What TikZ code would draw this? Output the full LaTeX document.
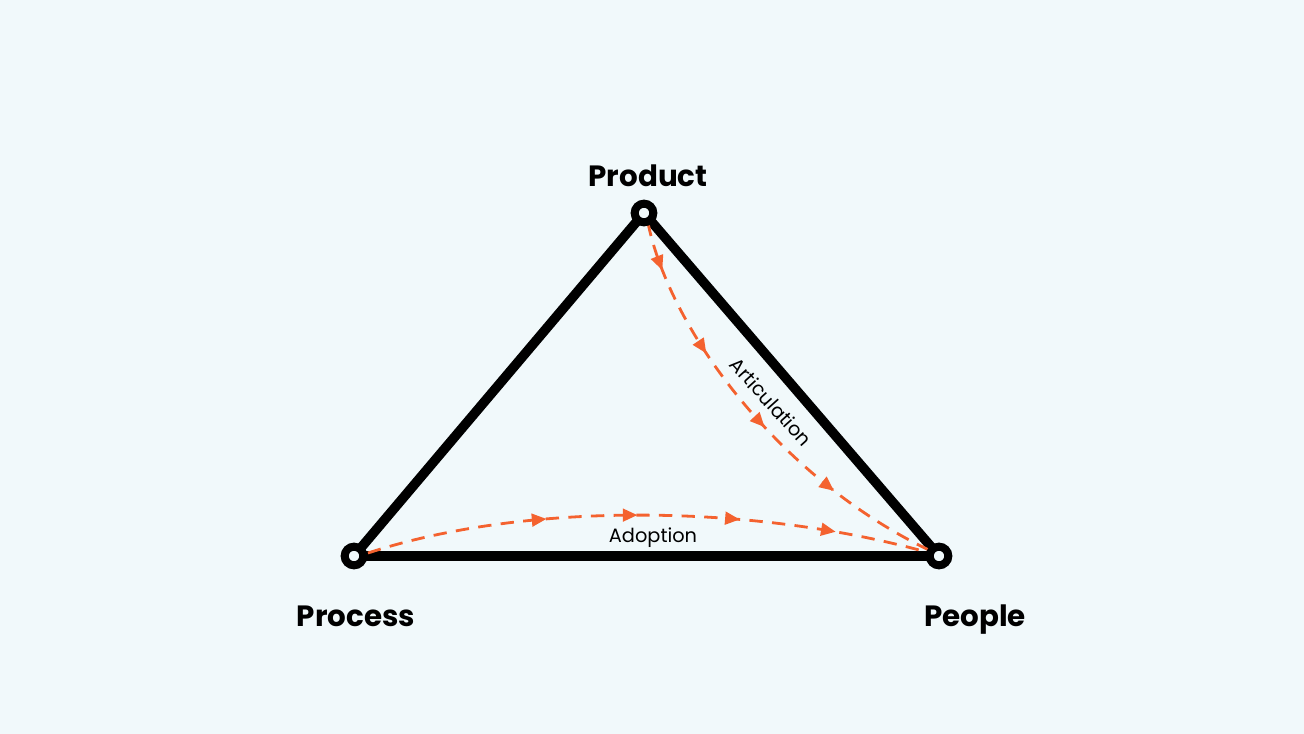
\documentclass[tikz,border=0pt]{standalone}
\usepackage{fontspec}
\setmainfont{Poppins}
\usetikzlibrary{arrows.meta,decorations.markings}
\definecolor{bgc}{HTML}{F1F9FB}
\definecolor{orng}{HTML}{F4622F}
\begin{document}
\begin{tikzpicture}[x=0.75pt,y=-0.75pt,
  edge/.style={line width=7.2pt,black,line join=round},
  vtx/.style={circle,draw=black,fill=bgc,line width=6pt,minimum size=14pt,inner sep=0pt},
  flow/.style={orng,line width=2.1pt,dash pattern=on 10pt off 7pt},
  bigl/.style={font=\fontsize{22}{26}\selectfont\bfseries,anchor=base},
  smalll/.style={font=\fontsize{14.5}{17}\selectfont}]
\fill[bgc] (0,0) rectangle (1304,734);
\useasboundingbox (0,0) rectangle (1304,734);
\coordinate (p1) at (644,213);
\coordinate (p2) at (354,556);
\coordinate (p3) at (939,556);
\draw[edge] (p1) -- (p2) -- (p3) -- cycle;
\coordinate (a0) at (648,223);
\coordinate (a1) at (933,552);
\coordinate (b0) at (368,553);
\coordinate (b1) at (930,553);
\draw[flow,postaction={decorate},decoration={markings,
  mark=at position 0.11 with {\arrow{Triangle[length=11pt,width=9.5pt]}},
  mark=at position 0.32 with {\arrow{Triangle[length=11pt,width=9.5pt]}},
  mark=at position 0.53 with {\arrow{Triangle[length=11pt,width=9.5pt]}},
  mark=at position 0.74 with {\arrow{Triangle[length=11pt,width=9.5pt]}}}]
  (a0) .. controls (670,330) and (780,480) .. (a1);
\draw[flow,postaction={decorate},decoration={markings,
  mark=at position 0.32 with {\arrow{Triangle[length=11pt,width=9.5pt]}},
  mark=at position 0.48 with {\arrow{Triangle[length=11pt,width=9.5pt]}},
  mark=at position 0.66 with {\arrow{Triangle[length=11pt,width=9.5pt]}},
  mark=at position 0.83 with {\arrow{Triangle[length=11pt,width=9.5pt]}}}]
  (b0) .. controls (530,500) and (760,505) .. (b1);
\node[vtx] (product) at (p1) {};
\node[vtx] (process) at (p2) {};
\node[vtx] (people) at (p3) {};
\node[bigl] (lprod) at (648,187) {Product};
\node[bigl] (lproc) at (356,626) {Process};
\node[bigl] (lpeop) at (975,626) {People};
\node[smalll,rotate=-48] (lart) at (771,402) {Articulation};
\node[smalll] (ladop) at (653,538) {Adoption};
\end{tikzpicture}
\end{document}
